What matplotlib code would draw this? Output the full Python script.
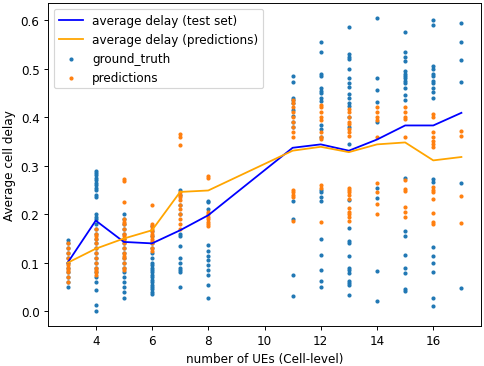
import numpy as np
import matplotlib
matplotlib.use("Agg")
import matplotlib.pyplot as plt

# number of UEs per cell
ues = [3, 4, 5, 6, 7, 8, 11, 12, 13, 14, 15, 16, 17]

# average delay curves
avg_test = [0.100, 0.187, 0.143, 0.140, 0.167, 0.198, 0.337, 0.344, 0.331, 0.354, 0.383, 0.383, 0.409]
avg_pred = [0.100, 0.129, 0.150, 0.167, 0.246, 0.249, 0.331, 0.339, 0.328, 0.344, 0.348, 0.311, 0.318]

# per-cell samples: ground truth
gt = {
    3: [0.147, 0.14, 0.13, 0.12, 0.11, 0.10, 0.09, 0.08, 0.07, 0.06, 0.05],
    4: [0.29, 0.285, 0.28, 0.275, 0.27, 0.265, 0.26, 0.255, 0.25, 0.24, 0.235, 0.20, 0.195,
        0.19, 0.18, 0.17, 0.16, 0.15, 0.14, 0.13, 0.12, 0.11, 0.10, 0.09, 0.08, 0.07, 0.06,
        0.044, 0.013, 0.0],
    5: [0.20, 0.19, 0.18, 0.17, 0.16, 0.15, 0.14, 0.13, 0.12, 0.11, 0.10, 0.09, 0.08, 0.07,
        0.06, 0.05, 0.04, 0.028],
    6: [0.175, 0.165, 0.155, 0.14, 0.13, 0.12, 0.11, 0.10, 0.095, 0.09, 0.085, 0.08, 0.075,
        0.07, 0.065, 0.06, 0.055, 0.05, 0.045, 0.04, 0.035],
    7: [0.25, 0.24, 0.22, 0.20, 0.16, 0.155, 0.135, 0.11, 0.10, 0.09, 0.085, 0.08, 0.05],
    8: [0.228, 0.225, 0.21, 0.136, 0.125, 0.115, 0.105, 0.095, 0.085, 0.075, 0.054, 0.027],
    11: [0.484, 0.473, 0.44, 0.435, 0.43, 0.415, 0.403, 0.39, 0.38, 0.227, 0.19, 0.075, 0.031],
    12: [0.555, 0.535, 0.49, 0.485, 0.46, 0.455, 0.45, 0.44, 0.433, 0.383, 0.375, 0.36, 0.25,
         0.245, 0.235, 0.228, 0.148, 0.116, 0.085, 0.062, 0.051],
    13: [0.585, 0.53, 0.525, 0.52, 0.50, 0.48, 0.47, 0.462, 0.448, 0.44, 0.43, 0.423, 0.40,
         0.38, 0.345, 0.229, 0.172, 0.145, 0.14, 0.113, 0.09, 0.085, 0.078, 0.062, 0.058,
         0.054, 0.033],
    14: [0.605, 0.48, 0.456, 0.432, 0.39, 0.255, 0.234, 0.083, 0.021],
    15: [0.575, 0.535, 0.525, 0.515, 0.495, 0.49, 0.485, 0.48, 0.475, 0.47, 0.46, 0.445, 0.435,
         0.275, 0.165, 0.155, 0.116, 0.09, 0.078, 0.045, 0.041],
    16: [0.6, 0.59, 0.505, 0.5, 0.49, 0.485, 0.475, 0.47, 0.46, 0.452, 0.44, 0.273, 0.267,
         0.133, 0.113, 0.099, 0.082, 0.027, 0.01],
    17: [0.595, 0.555, 0.517, 0.473, 0.264, 0.049],
}

# per-cell samples: predictions
pred = {
    3: [0.14, 0.13, 0.12, 0.11, 0.10, 0.095, 0.09, 0.085, 0.08, 0.07, 0.06],
    4: [0.17, 0.16, 0.155, 0.15, 0.14, 0.13, 0.12, 0.11, 0.10, 0.09, 0.085, 0.08, 0.075],
    5: [0.272, 0.268, 0.225, 0.19, 0.185, 0.18, 0.17, 0.16, 0.155, 0.15, 0.14, 0.13, 0.12,
        0.115, 0.11, 0.10, 0.09, 0.085],
    6: [0.22, 0.18, 0.175, 0.17, 0.165, 0.16, 0.155, 0.15, 0.145, 0.14, 0.13, 0.125],
    7: [0.365, 0.36, 0.343, 0.245, 0.24, 0.235, 0.23, 0.22, 0.21, 0.20, 0.19, 0.18, 0.17],
    8: [0.278, 0.274, 0.205, 0.2, 0.195, 0.19, 0.185, 0.18, 0.175],
    11: [0.435, 0.43, 0.42, 0.41, 0.40, 0.39, 0.38, 0.37, 0.36, 0.25, 0.245, 0.24, 0.236, 0.187],
    12: [0.425, 0.42, 0.41, 0.40, 0.395, 0.37, 0.36, 0.355, 0.26, 0.255, 0.185],
    13: [0.417, 0.41, 0.40, 0.39, 0.385, 0.375, 0.37, 0.362, 0.255, 0.25, 0.245, 0.24, 0.232,
         0.212, 0.205, 0.20, 0.195, 0.187],
    14: [0.42, 0.41, 0.40, 0.395, 0.36, 0.265, 0.245, 0.222, 0.20],
    15: [0.42, 0.41, 0.40, 0.396, 0.36, 0.27, 0.252, 0.248, 0.215, 0.205, 0.195],
    16: [0.407, 0.40, 0.37, 0.36, 0.35, 0.345, 0.338, 0.256, 0.25, 0.246, 0.232, 0.203, 0.185, 0.179],
    17: [0.372, 0.362, 0.237, 0.183],
}

gt_x = [k for k in ues for _ in gt[k]]
gt_y = [v for k in ues for v in gt[k]]
pr_x = [k for k in ues for _ in pred[k]]
pr_y = [v for k in ues for v in pred[k]]

# the reference looks like a 100 dpi figure shrunk to ~86%
DPI = 86
fig = plt.figure(figsize=(484 / DPI, 367 / DPI), dpi=DPI)
ax = fig.add_axes([0.099, 0.109, 0.895, 0.88])

ax.plot(ues, avg_test, color='blue', label='average delay (test set)')
ax.plot(ues, avg_pred, color='orange', label='average delay (predictions)')
ax.scatter(gt_x, gt_y, s=6, color='tab:blue', label='ground_truth')
ax.scatter(pr_x, pr_y, s=6, color='tab:orange', label='predictions')

ax.set_xlabel('number of UEs (Cell-level)')
ax.set_ylabel('Average cell delay')
ax.legend(loc='upper left')

fig.savefig('out.png', dpi=DPI)
